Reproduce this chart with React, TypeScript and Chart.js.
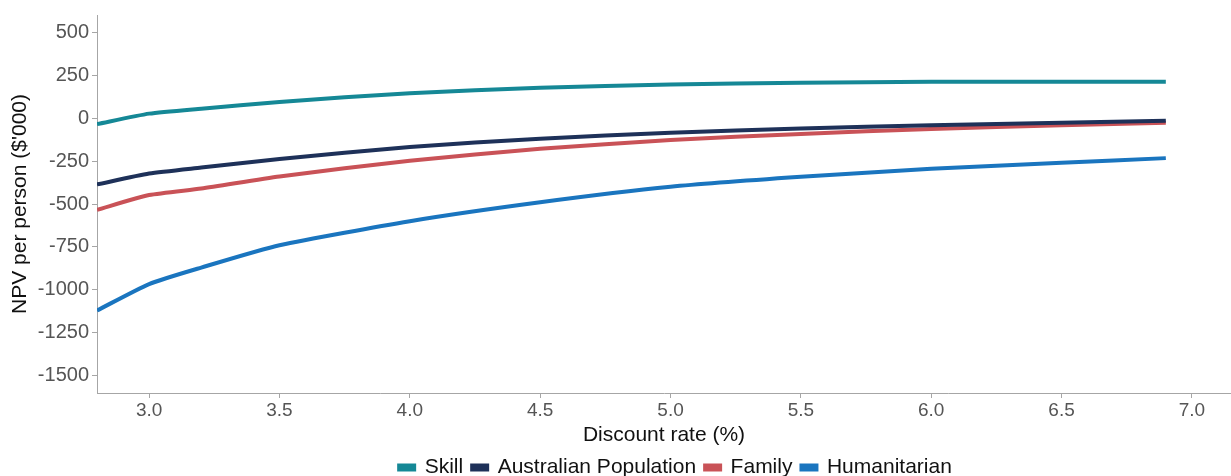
import React, { useEffect, useRef } from "react";
import { Chart, registerables } from "chart.js";

Chart.register(...registerables);

const discountRates = [2.8, 3.0, 3.2, 3.5, 4.0, 4.5, 5.0, 5.5, 6.0, 6.5, 6.9];
const skill = [-35, 26, 55, 94, 145, 176, 196, 206, 211, 212, 212];
const australianPopulation = [-386, -323, -288, -238, -168, -120, -85, -60, -42, -27, -16];
const family = [-534, -448, -410, -340, -248, -178, -128, -92, -63, -42, -27];
const humanitarian = [-1120, -966, -870, -740, -600, -490, -400, -342, -295, -260, -233];

const xTicks = [3.0, 3.5, 4.0, 4.5, 5.0, 5.5, 6.0, 6.5, 7.0];
const yTicks = [-1500, -1250, -1000, -750, -500, -250, 0, 250, 500];

const seriesNames = ["Skill", "Australian Population", "Family", "Humanitarian"];
const seriesColors = ["#158896", "#1e3159", "#c95257", "#1a75bf"];
const seriesValues = [skill, australianPopulation, family, humanitarian];

const FONT = "Liberation Sans, Arial, sans-serif";

const legendShift = {
  id: "legendShift",
  afterLayout(chart: any) {
    if (chart.legend) {
      chart.legend.left += 60;
      chart.legend.right += 60;
      chart.legend.top -= 2;
      chart.legend.bottom -= 2;
    }
  },
};

export default function App() {
  const ref = useRef<HTMLCanvasElement | null>(null);

  useEffect(() => {
    if (!ref.current) return;
    const chart = new Chart(ref.current, {
      type: "line",
      data: {
        datasets: seriesNames.map((name, i) => ({
          label: name,
          data: discountRates.map((x, j) => ({ x, y: seriesValues[i][j] })),
          borderColor: seriesColors[i],
          backgroundColor: seriesColors[i],
          borderWidth: 4,
          pointRadius: 0,
          tension: 0.2,
          fill: false,
        })),
      },
      plugins: [legendShift],
      options: {
        animation: false,
        responsive: false,
        maintainAspectRatio: false,
        layout: { padding: { top: 13, right: 0, left: 0, bottom: -14 } },
        plugins: {
          legend: {
            position: "bottom",
            labels: {
              boxWidth: 15,
              boxHeight: 4,
              padding: 9,
              color: "#111",
              font: { family: FONT, size: 21 },
            },
          },
          tooltip: { enabled: false },
        },
        scales: {
          x: {
            type: "linear",
            min: 2.8,
            max: 7.15,
            border: { color: "#a6a6a6", width: 1 },
            grid: { display: true, drawOnChartArea: false, tickLength: 5, color: "#a6a6a6" },
            afterBuildTicks: (s: any) => {
              s.ticks = xTicks.map((v) => ({ value: v }));
            },
            ticks: {
              padding: 1,
              color: "#555",
              font: { family: FONT, size: 19 },
              callback: (v: any) => Number(v).toFixed(1),
            },
            title: {
              display: true,
              text: "Discount rate (%)",
              color: "#111",
              padding: { top: 0, bottom: 2 },
              font: { family: FONT, size: 21 },
            },
          },
          y: {
            type: "linear",
            min: -1600,
            max: 600,
            border: { color: "#a6a6a6", width: 1 },
            grid: { display: true, drawOnChartArea: false, tickLength: 5, color: "#a6a6a6" },
            afterBuildTicks: (s: any) => {
              s.ticks = yTicks.map((v) => ({ value: v }));
            },
            ticks: {
              padding: 3,
              color: "#555",
              font: { family: FONT, size: 20 },
              callback: (v: any) => String(v),
            },
            title: {
              display: true,
              text: "NPV per person ($'000)",
              color: "#111",
              padding: { top: 8, bottom: 0 },
              font: { family: FONT, size: 21 },
            },
            afterFit: (s: any) => {
              s.width = 97;
            },
          },
        },
      },
    });
    return () => chart.destroy();
  }, []);

  return (
    <div style={{ position: "fixed", left: 0, top: 0, width: 1231, height: 476, background: "#fff" }}>
      <canvas ref={ref} width={1231} height={476} style={{ display: "block" }} />
    </div>
  );
}
